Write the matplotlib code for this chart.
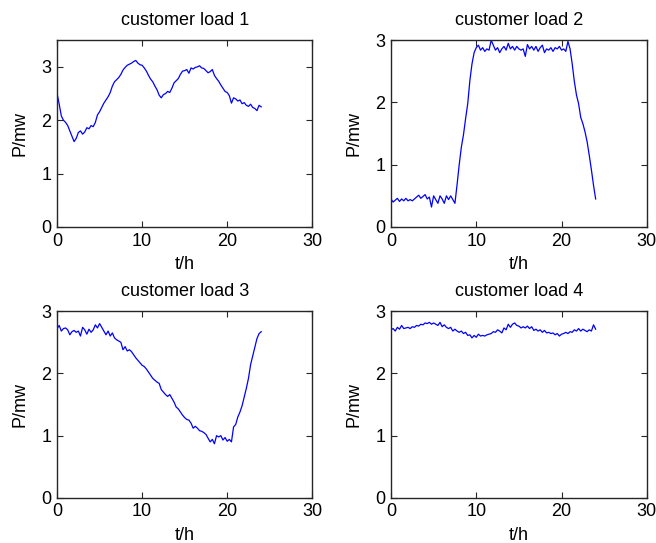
import numpy as np
import matplotlib
matplotlib.use("Agg")
import matplotlib.pyplot as plt

plt.rcParams["font.family"] = ["Liberation Sans", "DejaVu Sans"]

# sample times, one reading every 15 minutes
hours = np.linspace(0, 24, 97)

load_1 = [
    2.50, 2.30, 2.08, 2.00, 1.96, 1.90, 1.80, 1.70,
    1.60, 1.66, 1.77, 1.80, 1.74, 1.78, 1.86, 1.84,
    1.90, 1.88, 1.96, 2.10, 2.16, 2.24, 2.32, 2.38,
    2.44, 2.52, 2.64, 2.72, 2.76, 2.80, 2.86, 2.94,
    2.99, 3.03, 3.05, 3.07, 3.10, 3.12, 3.07, 3.04,
    3.03, 2.98, 2.92, 2.84, 2.77, 2.72, 2.64, 2.57,
    2.47, 2.42, 2.48, 2.50, 2.54, 2.52, 2.60, 2.70,
    2.74, 2.78, 2.86, 2.92, 2.93, 2.95, 2.88, 2.98,
    2.96, 2.99, 3.00, 3.02, 2.98, 2.97, 2.93, 2.89,
    2.91, 2.95, 2.84, 2.78, 2.73, 2.66, 2.60, 2.54,
    2.52, 2.46, 2.32, 2.42, 2.40, 2.36, 2.38, 2.31,
    2.33, 2.28, 2.26, 2.30, 2.24, 2.22, 2.18, 2.28,
    2.25,
]

load_2 = [
    0.45, 0.40, 0.43, 0.46, 0.41, 0.45, 0.42, 0.46,
    0.42, 0.44, 0.42, 0.45, 0.48, 0.51, 0.46, 0.49,
    0.52, 0.45, 0.48, 0.32, 0.50, 0.44, 0.38, 0.50,
    0.45, 0.38, 0.50, 0.44, 0.50, 0.44, 0.38, 0.68,
    1.00, 1.28, 1.48, 1.74, 1.98, 2.35, 2.62, 2.80,
    2.88, 2.92, 2.84, 2.88, 2.82, 2.86, 2.84, 3.00,
    2.92, 2.84, 2.88, 2.80, 2.86, 2.90, 2.84, 2.95,
    2.86, 2.90, 2.84, 2.90, 2.86, 2.84, 2.86, 2.74,
    2.93, 2.86, 2.90, 2.84, 2.90, 2.82, 2.88, 2.92,
    2.80, 2.86, 2.84, 2.88, 2.82, 2.88, 2.86, 2.90,
    2.84, 2.86, 2.82, 2.98, 2.86, 2.62, 2.34, 2.12,
    1.98, 1.76, 1.66, 1.53, 1.37, 1.15, 0.92, 0.67,
    0.45,
]

load_3 = [
    2.72, 2.77, 2.68, 2.72, 2.73, 2.70, 2.62, 2.67,
    2.69, 2.66, 2.68, 2.60, 2.74, 2.70, 2.63, 2.71,
    2.66, 2.70, 2.78, 2.73, 2.80, 2.74, 2.68, 2.62,
    2.68, 2.60, 2.65, 2.57, 2.54, 2.52, 2.50, 2.38,
    2.43, 2.36, 2.38, 2.35, 2.30, 2.25, 2.21, 2.17,
    2.13, 2.11, 2.07, 2.02, 1.97, 1.92, 1.89, 1.86,
    1.84, 1.74, 1.70, 1.66, 1.63, 1.66, 1.60, 1.54,
    1.46, 1.43, 1.38, 1.33, 1.29, 1.26, 1.25, 1.20,
    1.12, 1.15, 1.12, 1.08, 1.07, 1.05, 1.02, 0.96,
    0.90, 0.94, 0.87, 1.00, 0.98, 1.00, 0.93, 0.97,
    0.91, 0.94, 0.90, 1.14, 1.18, 1.30, 1.38, 1.48,
    1.62, 1.76, 1.92, 2.14, 2.28, 2.42, 2.56, 2.64,
    2.67,
]

load_4 = [
    2.70, 2.72, 2.68, 2.74, 2.71, 2.77, 2.72, 2.73,
    2.74, 2.72, 2.75, 2.74, 2.77, 2.76, 2.79, 2.78,
    2.81, 2.80, 2.82, 2.79, 2.81, 2.79, 2.77, 2.82,
    2.75, 2.78, 2.74, 2.72, 2.74, 2.68, 2.71, 2.68,
    2.66, 2.68, 2.64, 2.66, 2.61, 2.62, 2.57, 2.61,
    2.58, 2.63, 2.60, 2.61, 2.60, 2.62, 2.63, 2.64,
    2.67, 2.66, 2.70, 2.68, 2.65, 2.73, 2.70, 2.79,
    2.74, 2.79, 2.81, 2.77, 2.76, 2.73, 2.75, 2.73,
    2.76, 2.72, 2.75, 2.69, 2.71, 2.68, 2.70, 2.66,
    2.69, 2.65, 2.66, 2.64, 2.65, 2.62, 2.64, 2.60,
    2.63, 2.64, 2.66, 2.64, 2.67, 2.66, 2.70, 2.68,
    2.72, 2.68, 2.71, 2.69, 2.67, 2.70, 2.68, 2.78,
    2.71,
]

titles = ["customer load 1", "customer load 2", "customer load 3", "customer load 4"]
y_tops = [3.5, 3, 3, 3]
x_ticks = [0, 10, 20, 30]
y_ticks = [0, 1, 2, 3]

fig = plt.figure(figsize=(6.56, 5.43), dpi=100)

# axes boxes in figure fractions, matching the 2x2 layout
positions = [
    [0.087, 0.582, 0.389, 0.344],
    [0.596, 0.582, 0.390, 0.344],
    [0.087, 0.083, 0.389, 0.344],
    [0.596, 0.083, 0.390, 0.344],
]

for pos, title, load, ytop in zip(positions, titles, [load_1, load_2, load_3, load_4], y_tops):
    ax = fig.add_axes(pos)
    ax.plot(hours, load, color="#0000ff", linewidth=0.9)
    ax.set_xlim(0, 30)
    ax.set_ylim(0, ytop)
    ax.set_xticks(x_ticks)
    ax.set_yticks(y_ticks)
    ax.tick_params(direction="in", top=True, right=True, length=4, width=0.8,
                   labelsize=13, pad=4, color="#262626")
    for sp in ax.spines.values():
        sp.set_linewidth(1.0)
        sp.set_color("#262626")
    ax.set_title(title, fontsize=13, pad=11)
    ax.set_xlabel("t/h", fontsize=13, labelpad=5)
    ax.set_ylabel("P/mw", fontsize=13, labelpad=9)

fig.savefig("out.png", dpi=100)
